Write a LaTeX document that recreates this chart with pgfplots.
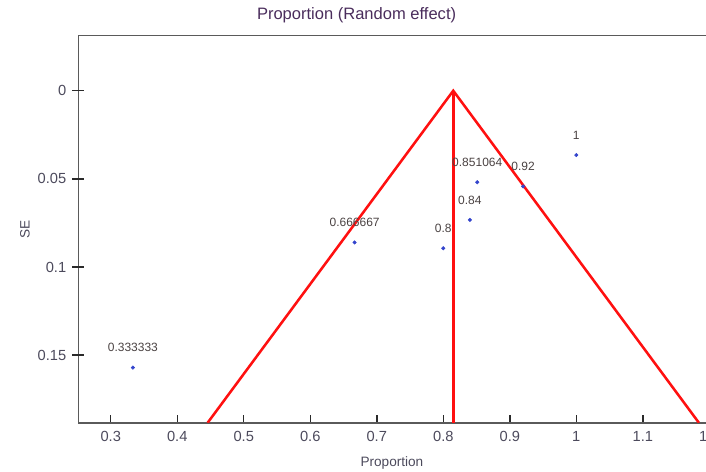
\documentclass[border=0pt]{standalone}
\usepackage{fontspec}
\setmainfont{Liberation Sans}
\usepackage{pgfplots}
\pgfplotsset{compat=1.18}
\definecolor{axisgray}{HTML}{5A5A5A}
\definecolor{tickgray}{HTML}{2A2A2A}
\definecolor{ticktext}{HTML}{4C4A5C}
\definecolor{titlecol}{HTML}{4A2D5C}
\definecolor{ptblue}{HTML}{3344CC}
\definecolor{ptlabel}{HTML}{4A4242}
\definecolor{funnel}{HTML}{FF1010}

% SE is plotted downwards: y filter negates it
\pgfplotstableread{
x y label
0.333333 0.1571 0.333333
0.666667 0.0861 0.666667
0.8 0.0894 0.8
0.84 0.0733 0.84
0.851064 0.0519 0.851064
0.92 0.0543 0.92
1 0.0365 1
}\studies

\begin{document}
\begin{tikzpicture}
\begin{axis}[
    scale only axis,
    width=473.25pt, height=290.25pt,
    xmin=0.2512, xmax=1.2,
    ymin=-0.1884, ymax=0.0312,
    y filter/.expression={-y},
    axis line style={axisgray, line width=1.1pt},
    xtick pos=bottom, ytick pos=left,
    tick align=inside, major tick length=6pt,
    xtick={0.3,0.4,0.5,0.6,0.7,0.8,0.9,1,1.1,1.2},
    x tick style={tickgray, line width=1.1pt},
    ytick=\empty,
    extra y ticks={-0.15,-0.1,-0.05,0},
    extra y tick labels={0.15,0.1,0.05,0},
    extra y tick style={tick align=center, major tick length=9pt,
        tick style={tickgray, line width=1.1pt}},
    /pgf/number format/.cd, fixed, precision=2, assume math mode=true,
    /pgfplots/.cd,
    tick label style={font=\fontsize{11}{13}\selectfont, text=ticktext},
    xticklabel style={yshift=-3pt},
    yticklabel style={xshift=-1pt},
    title={Proportion (Random effect)},
    title style={at={(axis description cs:0.441,1)}, anchor=center, yshift=9.5pt,
        font=\fontsize{12.4}{14}\selectfont, text=titlecol},
    xlabel={Proportion},
    xlabel style={at={(axis description cs:0.497,0)}, anchor=center, yshift=-30pt,
        font=\fontsize{10.2}{12}\selectfont, text=ticktext},
    ylabel={SE},
    ylabel style={at={(axis description cs:0,0.5)}, anchor=center, yshift=40pt,
        font=\fontsize{10.2}{12}\selectfont, text=ticktext},
]
\coordinate (bl) at (rel axis cs:0,0);
\coordinate (tr) at (rel axis cs:1,1);
% funnel: pooled 0.815, limits +-1.96 SE
\addplot[funnel, line width=1.9pt, line join=miter] coordinates {
    (0.4457,0.1884) (0.815,0) (1.1843,0.1884)
};
\addplot[funnel, line width=1.9pt] coordinates {
    (0.815,0) (0.815,0.1884)
};
\addplot[only marks, mark=*, mark size=1.3pt, ptblue,
    point meta=explicit symbolic,
    nodes near coords,
    every node near coord/.append style={anchor=center, yshift=15pt,
        font=\fontsize{9}{10}\selectfont, text=ptlabel}]
    table[x=x, y=y, meta=label] {\studies};
\end{axis}
\pgfresetboundingbox
\path[use as bounding box] ([xshift=-58.7pt, yshift=-36.2pt]bl) rectangle ([xshift=-2.5pt, yshift=26.8pt]tr);
\end{tikzpicture}
\end{document}
